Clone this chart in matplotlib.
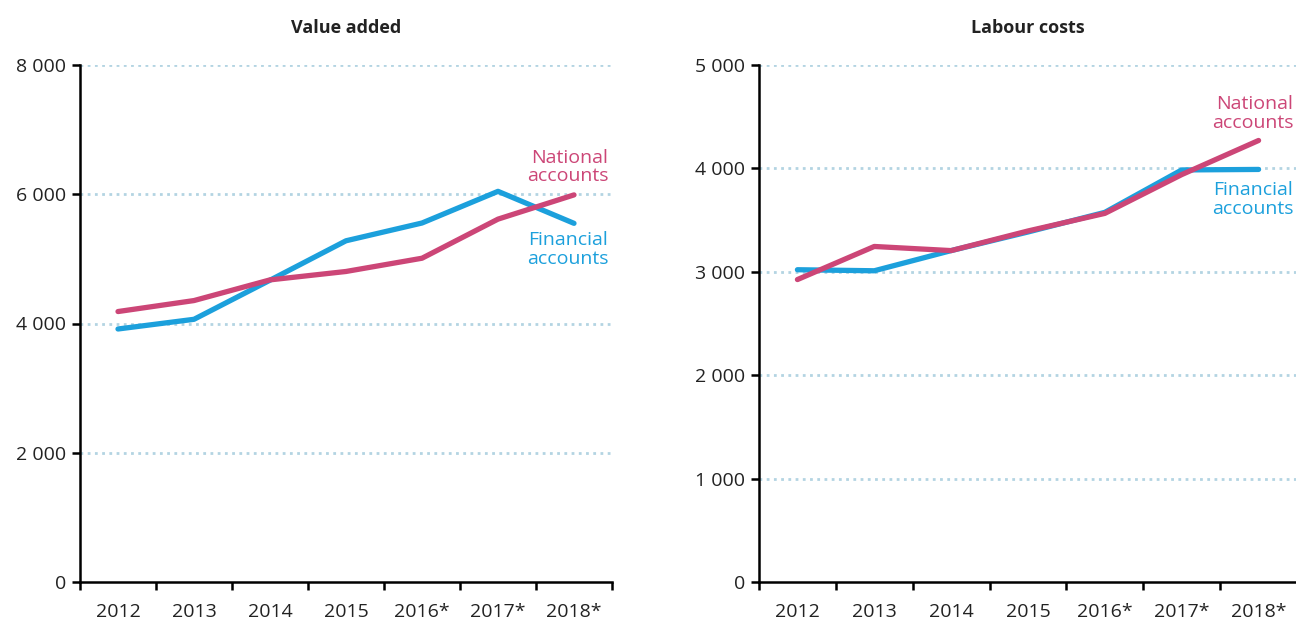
import matplotlib.pyplot as plt
import numpy as np

# ===============================
# DATA
# ===============================
years = ['2012', '2013', '2014', '2015', '2016*', '2017*', '2018*']

va_financial = [3915, 4065, 4670, 5280, 5555, 6045, 5550]
va_national = [4185, 4355, 4675, 4805, 5010, 5615, 5990]

lc_financial = [3020, 3010, 3205, 3385, 3575, 3985, 3990]
lc_national = [2925, 3245, 3205, 3395, 3565, 3940, 4270]

va_ticks = [0, 2000, 4000, 6000, 8000]
va_ticklabels = ['0', '2 000', '4 000', '6 000', '8 000']
lc_ticks = [0, 1000, 2000, 3000, 4000, 5000]
lc_ticklabels = ['0', '1 000', '2 000', '3 000', '4 000', '5 000']

BLUE = '#1ca0dc'
PINK = '#cc4677'
GRID = '#b3d4e2'

plt.rcParams['font.family'] = ['Open Sans', 'DejaVu Sans']

fig = plt.figure(figsize=(12.96, 6.21), dpi=100)
ax1 = fig.add_axes([80 / 1296, 39 / 621, 532 / 1296, 517 / 621])
ax2 = fig.add_axes([759 / 1296, 39 / 621, 538 / 1296, 517 / 621])


def style_panel(ax, title, ticks, ticklabels, fin, nat, nat_y, fin_y):
    x = np.arange(len(years))
    for t in ticks[1:]:
        ax.axhline(t, color=GRID, lw=2, ls=(0, (1, 1.6)), zorder=0)
    ax.plot(x, fin, color=BLUE, lw=3.8, solid_capstyle='round', zorder=3)
    ax.plot(x, nat, color=PINK, lw=3.8, solid_capstyle='round', zorder=4)

    ax.set_xlim(-0.5, len(years) - 0.5)
    ax.set_ylim(ticks[0], ticks[-1])
    ax.set_yticks(ticks)
    ax.set_yticklabels(ticklabels, fontsize=14, color='#222222')
    ax.set_xticks(x)
    ax.set_xticklabels(years, fontsize=14, color='#222222')
    ax.set_xticks(np.arange(-0.5, len(years)), minor=True)
    ax.tick_params(axis='x', which='major', length=0, pad=15)
    ax.tick_params(axis='x', which='minor', length=6, width=1.8, direction='out')
    ax.tick_params(axis='y', length=6, width=1.8, direction='out', pad=4)

    for side in ['top', 'right']:
        ax.spines[side].set_visible(False)
    for side in ['left', 'bottom']:
        ax.spines[side].set_linewidth(1.8)
        ax.spines[side].set_color('black')

    ax.set_title(title, fontsize=13, fontweight='bold', pad=23, color='#222222')

    ax.text(6.45, nat_y, 'National\naccounts', color=PINK, fontsize=14,
            ha='right', va='center', linespacing=1.05)
    ax.text(6.45, fin_y, 'Financial\naccounts', color=BLUE, fontsize=14,
            ha='right', va='center', linespacing=1.05)


style_panel(ax1, 'Value added', va_ticks, va_ticklabels,
            va_financial, va_national, 6420, 5140)
style_panel(ax2, 'Labour costs', lc_ticks, lc_ticklabels,
            lc_financial, lc_national, 4530, 3700)

fig.savefig('out.png', dpi=100)
